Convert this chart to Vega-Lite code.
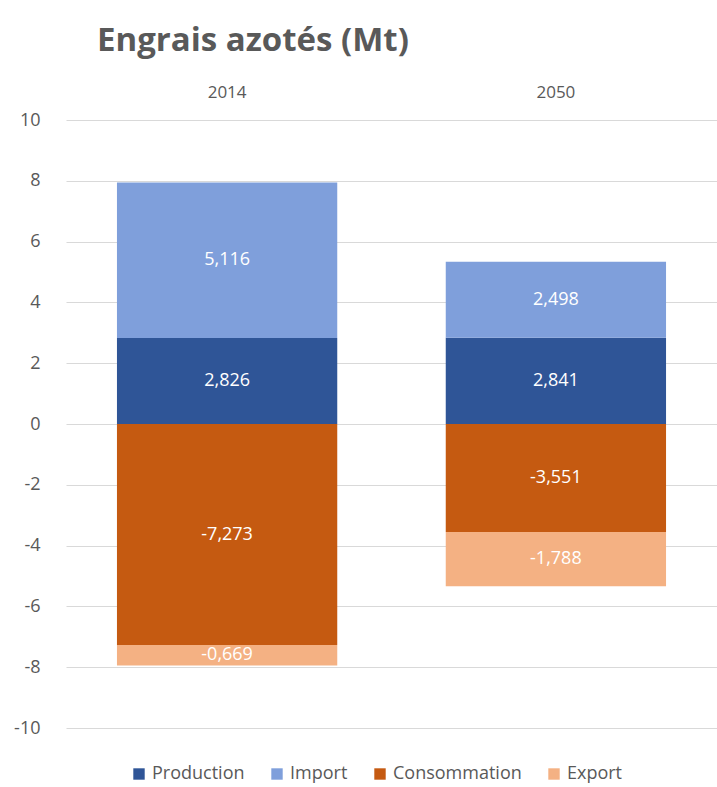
{
  "$schema": "https://vega.github.io/schema/vega-lite/v6.json",
  "width": 651,
  "height": 608,
  "autosize": {"type": "none"},
  "padding": {"left": 66, "top": 120, "right": 0, "bottom": 59},
  "background": "white",
  "config": {
    "locale": {"number": {"decimal": ",", "thousands": " ", "grouping": [3], "currency": ["", " €"], "minus": "-"}},
    "font": "Open Sans",
    "view": {"stroke": null}
  },
  "title": {
    "text": "Engrais azotés (Mt)",
    "anchor": "start",
    "frame": "group",
    "fontSize": 33,
    "fontWeight": "bold",
    "color": "#595959",
    "font": "Open Sans",
    "dx": 31,
    "offset": 25
  },
  "data": {
    "values": [
      {"annee": "2014", "serie": "Production", "valeur": 2.826, "ordre": 1},
      {"annee": "2014", "serie": "Import", "valeur": 5.116, "ordre": 2},
      {"annee": "2014", "serie": "Consommation", "valeur": -7.273, "ordre": 3},
      {"annee": "2014", "serie": "Export", "valeur": -0.669, "ordre": 4},
      {"annee": "2050", "serie": "Production", "valeur": 2.841, "ordre": 1},
      {"annee": "2050", "serie": "Import", "valeur": 2.498, "ordre": 2},
      {"annee": "2050", "serie": "Consommation", "valeur": -3.551, "ordre": 3},
      {"annee": "2050", "serie": "Export", "valeur": -1.788, "ordre": 4}
    ]
  },
  "transform": [
    {"stack": "valeur", "groupby": ["annee"], "sort": [{"field": "ordre", "order": "ascending"}], "as": ["bas", "haut"]},
    {"calculate": "(datum.bas + datum.haut) / 2", "as": "milieu"}
  ],
  "encoding": {
    "x": {
      "field": "annee",
      "type": "nominal",
      "scale": {"paddingInner": 0.33, "paddingOuter": 0.155},
      "axis": {"orient": "top", "title": null, "labelAngle": 0, "ticks": false, "domain": false, "labelFontSize": 17, "labelColor": "#595959", "labelPadding": 19, "labelFont": "Open Sans"}
    }
  },
  "layer": [
    {
      "mark": {"type": "bar"},
      "encoding": {
        "y": {
          "field": "bas",
          "type": "quantitative",
          "scale": {"domain": [-10, 10], "nice": false},
          "axis": {"title": null, "values": [-10, -8, -6, -4, -2, 0, 2, 4, 6, 8, 10], "format": "d", "ticks": false, "domain": false, "labelFontSize": 18, "labelColor": "#595959", "labelPadding": 26, "gridColor": "#d9d9d9", "gridWidth": 1, "labelFont": "Open Sans"}
        },
        "y2": {"field": "haut"},
        "color": {
          "field": "serie",
          "type": "nominal",
          "sort": ["Production", "Import", "Consommation", "Export"],
          "scale": {"domain": ["Production", "Import", "Consommation", "Export"], "range": ["#2F5597", "#7F9FDB", "#C55A11", "#F4B183"]},
          "legend": {"title": null, "orient": "none", "legendX": 64, "legendY": 645, "direction": "horizontal", "symbolType": "square", "symbolSize": 130, "symbolStrokeWidth": 0, "labelFontSize": 18, "labelColor": "#595959", "labelFont": "Open Sans", "columnPadding": 23, "labelOffset": 4}
        }
      }
    },
    {
      "mark": {"type": "text", "color": "white", "fontSize": 18, "font": "Open Sans"},
      "encoding": {
        "y": {"field": "milieu", "type": "quantitative"},
        "text": {"field": "valeur", "type": "quantitative", "format": ".3f"}
      }
    }
  ]
}
